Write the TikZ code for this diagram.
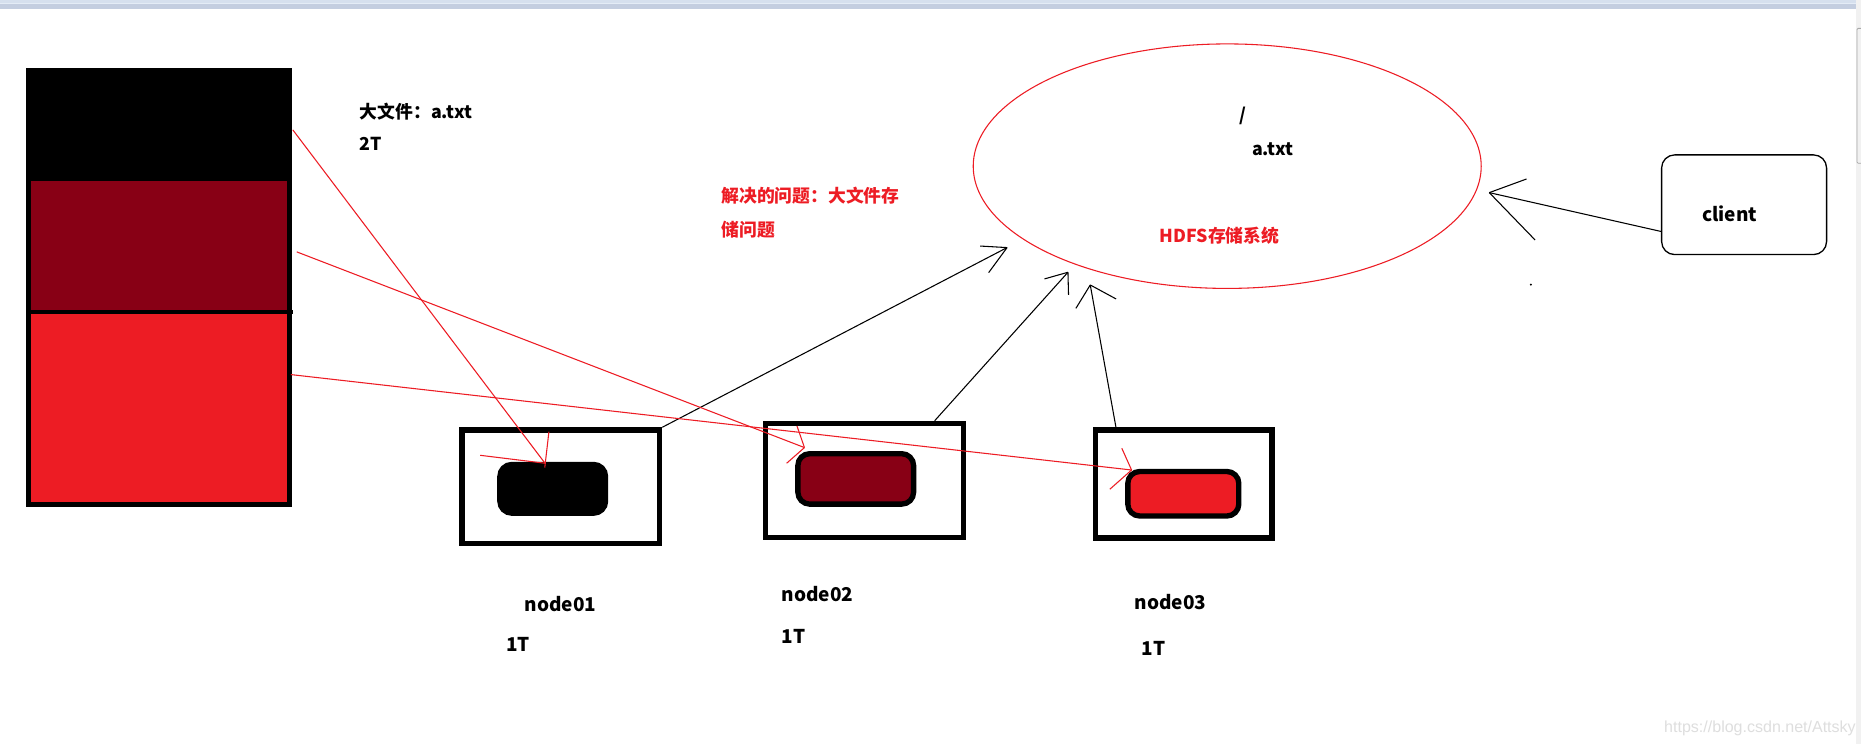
\documentclass[tikz,border=0pt]{standalone}
\usepackage{fontspec}
\setmainfont{Noto Sans CJK SC}
\newfontfamily\wmfont{Liberation Sans}
\usetikzlibrary{shapes.geometric,calc}
\definecolor{pred}{RGB}{237,28,36}
\definecolor{pdark}{RGB}{136,0,21}
\definecolor{barA}{RGB}{214,224,238}
\definecolor{barL}{RGB}{228,236,246}
\definecolor{barB}{RGB}{196,206,224}
\definecolor{sbar}{RGB}{241,241,241}
\definecolor{sthumb}{RGB}{168,168,168}
\begin{document}
\begin{tikzpicture}[x=1pt,y=-1pt,
  txt/.style={inner sep=0pt, anchor=base west, font=\fontsize{15}{18}\selectfont\bfseries},
  lbl/.style={inner sep=0pt, anchor=base west, font=\fontsize{16}{19}\selectfont\bfseries},
  rtxt/.style={txt, text=pred},
  part/.style={rectangle, inner sep=0pt, outer sep=0pt, minimum width=224pt, draw=none},
  srv/.style={rectangle, draw=black, line width=4.5pt, inner sep=0pt, fill=white},
  blk/.style={rectangle, rounded corners=10pt, draw=black, line width=4.5pt, inner sep=0pt},
  thinln/.style={draw=black, line width=0.9pt},
  rline/.style={draw=pred, line width=0.9pt},
]
% canvas
\fill[white] (0,0) rectangle (1568,627);
\useasboundingbox (0,0) rectangle (1568,627);
% window chrome
\fill[barB] (0,0) rectangle (1563.6,7.9);
\fill[barA] (0,0) rectangle (1563.6,2.8);
\fill[barL] (0,2.8) rectangle (1563.6,3.6);
\fill[sbar] (1563.6,0) rectangle (1568,627);
\draw[sthumb, line width=0.7pt, rounded corners=1pt] (1568.5,23.9) -- (1564.6,23.9) -- (1564.6,137.6) -- (1568.5,137.6);

% big file split into three blocks
\node[part, fill=black, minimum height=95.5pt] (pa) at (134,104.75) {};
\node[part, fill=pdark, minimum height=110.5pt] (pb) at (134,207.75) {};
\node[part, fill=pred, minimum height=164pt] (pc) at (134,345) {};
\draw[line width=4pt] ([shift={(2,2)}]pa.north west) rectangle ([shift={(-2,-2)}]pc.south east);
\draw[line width=3.5pt] (pb.south west) -- ([xshift=1pt]pb.south east);

% texts near file
\node[txt] (bigf) at (303,99.5) {大文件：a.txt};
\node[txt] (sz) at (303,126.5) {2T};
\node[rtxt] (q1) at (607.7,171) {解决的问题：大文件存};
\node[rtxt] (q2) at (607.7,199.5) {储问题};

% HDFS ellipse
\node[ellipse, draw=pred, line width=0.9pt, minimum width=428pt, minimum height=206pt, inner sep=0pt] (hdfs) at (1034,140) {};
\node[txt, anchor=base] (root) at (1047.5,102) {/};
\node[txt] (atxt) at (1054.7,130.6) {a.txt};
\node[rtxt] (hlbl) at (977,204) {HDFS存储系统};

% client
\node[draw=black, line width=1.1pt, rounded corners=11pt, minimum width=139pt, minimum height=84pt, inner sep=0pt] (client) at (1469.5,172.5) {};
\node[lbl] (clbl) at (1434,187) {client};

% data nodes
\node[srv, minimum width=166.5pt, minimum height=95.5pt] (s1) at (472.5,410) {};
\node[srv, minimum width=167pt, minimum height=96pt] (s2) at (728.25,404.75) {};
\node[srv, minimum width=149pt, minimum height=91pt] (s3) at (997.25,407.75) {};
\node[blk, fill=black, minimum width=89pt, minimum height=41pt] (b1) at (465.7,411.85) {};
\node[blk, fill=pdark, minimum width=97.5pt, minimum height=42.5pt] (b2) at (721,403.5) {};
\node[blk, fill=pred, minimum width=93.5pt, minimum height=37.5pt] (b3) at (997,416) {};

\node[lbl] (n1) at (441.8,515) {node01};
\node[lbl] (c1) at (426.3,549) {1T};
\node[lbl] (n2) at (658.5,507) {node02};
\node[lbl] (c2) at (658.5,542) {1T};
\node[lbl] (n3) at (955.8,513.3) {node03};
\node[lbl] (c3) at (961.7,552.4) {1T};

% black arrows towards HDFS
\coordinate (t1) at (848.5,208.6);
\coordinate (t2) at (899.8,229.4);
\coordinate (t3) at (918.6,240.1);
\coordinate (t4) at (1254.8,162.3);
\draw[thinln] (s1.north east) -- (t1);
\draw[thinln] (t1) -- ++(-22.7,-1.3);
\draw[thinln] (t1) -- ++(-15.5,21.1);
\draw[thinln] ([xshift=59.25pt]s2.north) -- (t2);
\draw[thinln] (t2) -- ++(-19.8,5.6);
\draw[thinln] (t2) -- ++(0.5,19.1);
\draw[thinln] ([xshift=-57pt]s3.north) -- (t3);
\draw[thinln] (t3) -- ++(-12.1,19.7);
\draw[thinln] (t3) -- ++(21.8,11.8);
\draw[thinln] ([yshift=-22.5pt]client.west) -- (t4);
\draw[thinln] (t4) -- ++(31.4,-11.5);
\draw[thinln] (t4) -- ++(38.6,39.9);
\fill (1289.8,239.8) circle (0.9pt);

% red arrows from blocks to nodes
\coordinate (tA) at (459.2,390.3);
\coordinate (tB) at (677.8,377.1);
\coordinate (tC) at (953.4,396);
\draw[rline] ([shift={(0.7,4.65)}]pa.east) -- (tA);
\draw[rline] (tA) -- ++(-54.7,-6.7);
\draw[rline] ([shift={(3.3,-26.6)}]tA) -- ([shift={(-0.2,3.6)}]tA);
\draw[rline] ([shift={(4,4.45)}]pb.east) -- (tB);
\draw[rline] (tB) -- ++(-6.3,-18.2);
\draw[rline] (tB) -- ++(-15,13.2);
\draw[rline] ([shift={(-1,-29.4)}]pc.east) -- (tC);
\draw[rline] (tC) -- ++(-8.2,-18.3);
\draw[rline] (tC) -- ++(-18.3,16.2);

% watermark
\node[inner sep=0pt, anchor=base west, text=black!13, font=\wmfont\fontsize{13.5}{16}\selectfont] (wm) at (1402,617) {https://blog.csdn.net/Attsky};
\end{tikzpicture}
\end{document}
